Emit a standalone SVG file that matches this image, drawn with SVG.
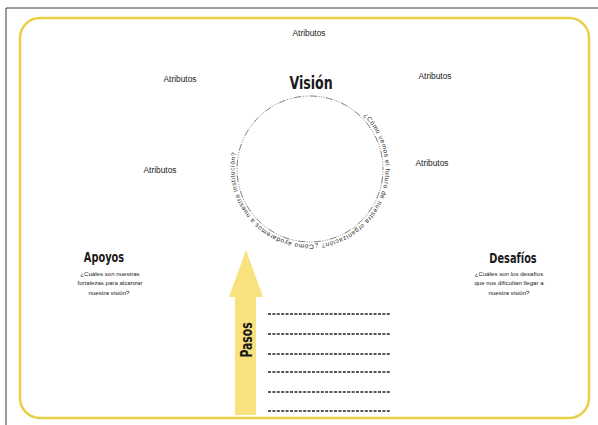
<svg xmlns="http://www.w3.org/2000/svg" width="598" height="425" viewBox="0 0 598 425">
  <style>
    .attr { font-family: "Liberation Sans", Arial, sans-serif; font-size: 8.4px; fill: #222; text-anchor: middle; }
    .title { font-family: "DejaVu Sans", "Liberation Sans", sans-serif; font-weight: bold; fill: #1a1a1a; text-anchor: middle; }
    .sub { font-family: "Liberation Sans", Arial, sans-serif; font-size: 6.1px; fill: #222; text-anchor: middle; }
    .ring-text { font-family: "Liberation Sans", sans-serif; font-size: 6.4px; fill: #2a2a2a; }
    .blank { stroke: #222; stroke-width: 1.6; stroke-dasharray: 3 1.4; fill: none; }
  </style>
  <defs>
    <path id="ringPath" d="M363.39,115.61 A75.5,75.5 0 1 1 236.74,150.73"/>
  </defs>

  <rect width="598" height="425" fill="#ffffff"/>

  <!-- page frame -->
  <g id="frame">
    <path d="M6,425 V8 H598" fill="none" stroke="#3a3a3a" stroke-width="1"/>
    <rect x="20" y="18" width="569" height="400" rx="20" ry="20" fill="none" stroke="#e8cf45" stroke-width="2.5"/>
  </g>

  <!-- attribute labels around the vision circle -->
  <g id="attributes">
    <text class="attr" x="309" y="36">Atributos</text>
    <text class="attr" x="180" y="82">Atributos</text>
    <text class="attr" x="435" y="79">Atributos</text>
    <text class="attr" x="160" y="173">Atributos</text>
    <text class="attr" x="432" y="166">Atributos</text>
  </g>

  <!-- vision circle -->
  <g id="vision">
    <circle cx="310" cy="169" r="73" fill="none" stroke="#444" stroke-width="0.7" stroke-dasharray="1 1.5 1 1.5 1 1.5 7 1.5"/>
    <text class="title" font-size="18" transform="translate(311,89) scale(0.7,1)">Visión</text>
    <text class="ring-text"><textPath href="#ringPath" textLength="312" lengthAdjust="spacing">¿Cómo vemos el futuro de nuestra organización? ¿Cómo ayudaremos a nuestra institución?</textPath></text>
  </g>

  <!-- supports -->
  <g id="apoyos">
    <text class="title" font-size="14" transform="translate(104,262) scale(0.7,1)">Apoyos</text>
    <text class="sub" x="110" y="275.5">¿Cuáles son nuestras</text>
    <text class="sub" x="110" y="285">fortalezas para alcanzar</text>
    <text class="sub" x="109" y="294.5">nuestra visión?</text>
  </g>

  <!-- challenges -->
  <g id="desafios">
    <text class="title" font-size="14" transform="translate(513,263) scale(0.7,1)">Desafíos</text>
    <text class="sub" x="509" y="275.5">¿Cuáles son los desafíos</text>
    <text class="sub" x="509" y="285">que nos dificultan llegar a</text>
    <text class="sub" x="509" y="294.5">nuestra visión?</text>
  </g>

  <!-- steps arrow -->
  <g id="pasos">
    <polygon points="246,250 263,297 256,297 256,415 235,415 235,297 229,297" fill="#f9e27e"/>
    <text class="title" font-size="15" transform="translate(251.5,340) rotate(-90) scale(0.72,1)">Pasos</text>
  </g>

  <!-- blank lines for the steps -->
  <g id="step-lines">
    <line class="blank" x1="268" y1="314" x2="390" y2="314"/>
    <line class="blank" x1="268" y1="334" x2="390" y2="334"/>
    <line class="blank" x1="268" y1="354" x2="390" y2="354"/>
    <line class="blank" x1="268" y1="372" x2="390" y2="372"/>
    <line class="blank" x1="268" y1="392" x2="390" y2="392"/>
    <line class="blank" x1="268" y1="411" x2="390" y2="411"/>
  </g>
</svg>
